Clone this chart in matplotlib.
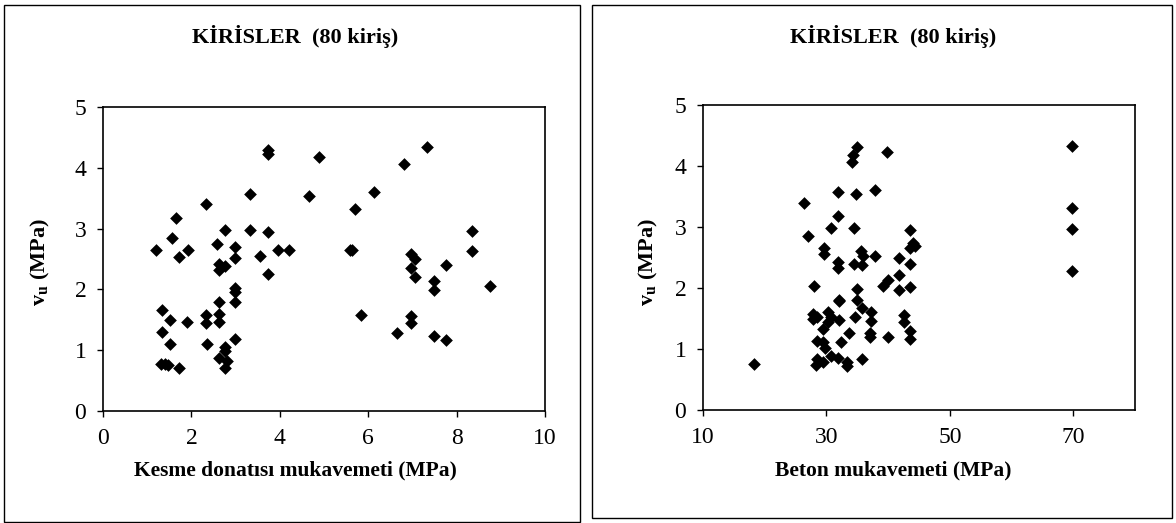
import matplotlib.pyplot as plt
from matplotlib.patches import Rectangle

plt.rcParams['font.family'] = ['Liberation Serif', 'DejaVu Serif']
plt.rcParams['mathtext.fontset'] = 'custom'
plt.rcParams['mathtext.rm'] = 'Liberation Serif'
plt.rcParams['mathtext.bf'] = 'Liberation Serif:bold'

# sol grafik: kesme donatısı mukavemeti - vu
kesme_x = [1.20, 1.65, 1.56, 1.73, 1.93, 2.33, 2.76, 2.57, 2.99, 2.99,
           2.62, 2.62, 2.77, 3.32, 3.32, 3.73, 3.73, 3.73, 3.55, 3.95,
           4.20, 3.73, 4.88, 4.65, 5.59, 2.99, 2.99, 2.99, 2.62, 2.62,
           2.62, 2.34, 2.34, 1.33, 1.52, 1.89, 1.33, 1.52, 2.36, 2.99,
           2.77, 2.77, 2.62, 2.80, 2.76, 1.32, 1.48, 1.40, 1.73,
           7.33, 6.82, 6.12, 5.70, 5.63, 5.83, 6.96, 7.05, 6.96, 7.05,
           7.76, 7.48, 7.48, 8.34, 8.34, 8.76, 6.96, 6.96, 6.65, 7.48, 7.76]
kesme_vu = [2.64, 3.17, 2.85, 2.54, 2.65, 3.40, 2.97, 2.75, 2.69, 2.52,
            2.42, 2.32, 2.38, 3.57, 2.98, 4.29, 4.22, 2.95, 2.55, 2.65,
            2.65, 2.26, 4.17, 3.54, 2.65, 2.03, 1.96, 1.80, 1.80, 1.59,
            1.46, 1.58, 1.44, 1.66, 1.50, 1.47, 1.30, 1.10, 1.11, 1.18,
            1.06, 0.99, 0.87, 0.83, 0.70, 0.78, 0.75, 0.77, 0.71,
            4.34, 4.07, 3.61, 3.32, 2.65, 1.58, 2.59, 2.50, 2.36, 2.20,
            2.40, 2.13, 1.99, 2.96, 2.63, 2.05, 1.56, 1.44, 1.28, 1.24, 1.16]

# sağ grafik: beton mukavemeti - vu
beton_x = [18.2, 26.4, 27.0, 28.0, 27.8, 28.4, 27.8, 29.6, 29.6, 30.7,
           30.3, 30.7, 30.3, 29.4, 28.4, 29.4, 29.8, 28.4, 28.3, 29.4,
           30.8, 31.9, 31.9, 31.9, 31.9, 32.1, 32.1, 32.1, 32.4, 31.9,
           33.3, 33.3, 33.7, 34.6, 34.5, 34.8, 34.9, 34.3, 34.1, 34.5,
           35.7, 35.6, 36.0, 35.0, 35.0, 35.7, 35.7, 37.2, 37.2, 37.0,
           37.0, 37.9, 37.8, 39.8, 39.1, 39.9, 39.9, 41.8, 41.8, 41.8,
           42.5, 42.5, 43.5, 44.1, 43.5, 44.4, 43.5, 43.5, 43.5, 43.5,
           69.8, 69.8, 69.8, 69.8]
beton_vu = [0.75, 3.40, 2.85, 2.03, 1.58, 1.53, 1.50, 2.66, 2.55, 2.99,
            1.61, 1.53, 1.45, 1.32, 1.13, 1.12, 1.01, 0.83, 0.74, 0.79,
            0.89, 3.58, 3.18, 2.43, 2.32, 1.80, 1.78, 1.48, 1.12, 0.86,
            0.78, 0.72, 1.26, 1.52, 2.98, 3.54, 4.31, 4.18, 4.06, 2.40,
            2.37, 2.61, 2.52, 1.98, 1.81, 1.68, 0.83, 1.60, 1.46, 1.26,
            1.19, 2.53, 3.61, 4.23, 2.04, 2.13, 1.19, 2.50, 2.21, 1.97,
            1.56, 1.45, 2.95, 2.74, 2.65, 2.69, 2.39, 2.01, 1.30, 1.16,
            4.33, 3.31, 2.96, 2.28]

baslik = 'KİRİSLER  (80 kiriş)'

W, H = 1176, 523
fig = plt.figure(figsize=(W / 100, H / 100), dpi=100)

# dış çerçeveler
fig.patches.append(Rectangle((4 / W, 1 - 522 / H), 576 / W, 517 / H,
                             transform=fig.transFigure, fill=False,
                             edgecolor='black', linewidth=1.0))
fig.patches.append(Rectangle((592 / W, 1 - 518 / H), 580 / W, 513 / H,
                             transform=fig.transFigure, fill=False,
                             edgecolor='black', linewidth=1.0))

ax1 = fig.add_axes([103 / W, 1 - 411 / H, 442 / W, 304 / H])
ax2 = fig.add_axes([703 / W, 1 - 410 / H, 432 / W, 305 / H])


def ciz(ax, x, y, xlim, xticks, xlabel, cx, ylab_x):
    ax.scatter(x, y, marker='D', s=42, color='black', linewidths=0, zorder=3)
    ax.set_xlim(*xlim)
    ax.set_ylim(0, 5)
    ax.set_xticks(xticks)
    ax.set_yticks(range(6))
    ax.tick_params(direction='out', length=4, width=1, labelsize=17, pad=8)
    for sp in ax.spines.values():
        sp.set_linewidth(1.2)
    fig.text(cx / W, 1 - 37 / H, baslik, ha='center', va='center',
             fontsize=16, fontweight='bold')
    fig.text(cx / W, 1 - 470 / H, xlabel, ha='center', va='center',
             fontsize=15.5, fontweight='bold')
    fig.text(ylab_x / W, 1 - 262 / H, r'$\mathbf{v_u}$ (MPa)', rotation=90,
             ha='center', va='center', fontsize=16, fontweight='bold')


ciz(ax1, kesme_x, kesme_vu, (0, 10), [0, 2, 4, 6, 8, 10],
    'Kesme donatısı mukavemeti (MPa)', 295, 40)
ciz(ax2, beton_x, beton_vu, (10, 80), [10, 30, 50, 70],
    'Beton mukavemeti (MPa)', 893, 648)

fig.savefig('out.png', dpi=100)
